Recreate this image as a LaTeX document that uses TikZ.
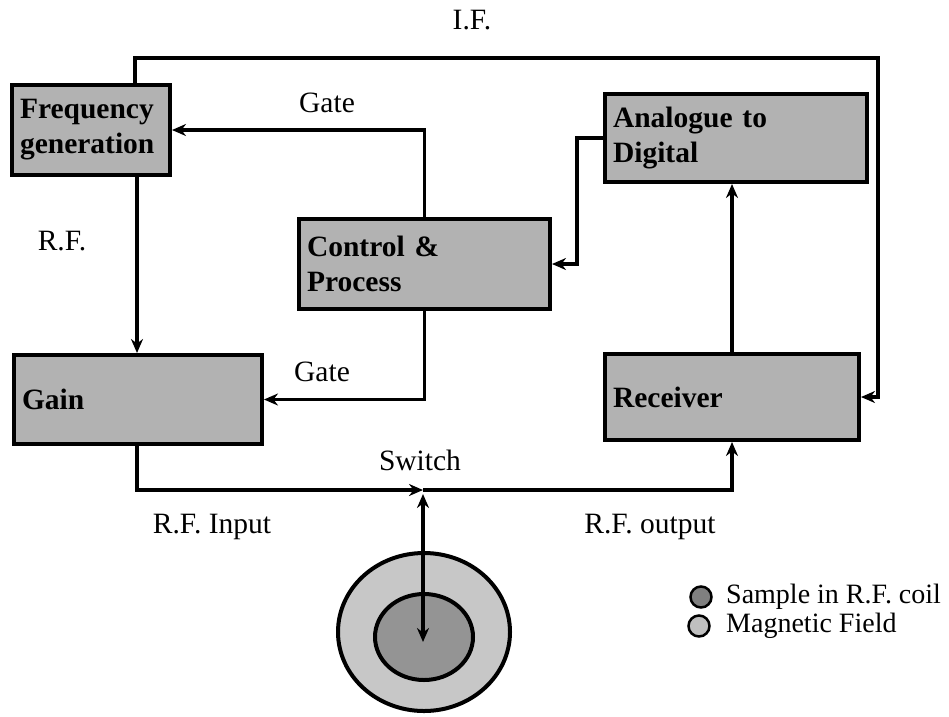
\documentclass[tikz,border=0pt]{standalone}
\usepackage{fontspec}
\setmainfont{Liberation Serif}
\usetikzlibrary{arrows.meta,shapes.geometric}
\begin{document}
\begin{tikzpicture}[x=1pt,y=-1pt,
  box/.style={draw=black, line width=4pt, fill=black!30, inner ysep=0pt, inner xsep=8pt,
    anchor=north west, font=\fontsize{29.5}{35}\selectfont\bfseries, align=left},
  conn/.style={line width=3.5pt},
  tip/.style={-{Stealth[length=14pt,width=12pt]}},
  lab/.style={font=\fontsize{29.5}{35}\selectfont, inner sep=0pt},
  leglab/.style={font=\fontsize{28}{34}\selectfont, inner sep=0pt, anchor=west},
  legdot/.style={circle, draw=black, line width=2.5pt, minimum size=21pt, inner sep=0pt}]
\useasboundingbox (0,0) rectangle (949,716);
% boxes
\node[box, text width=142pt, minimum height=90pt] (freq) at (10,83) {Frequency\\generation};
\node[box, text width=246pt, minimum height=88pt] (ad) at (603,92) {Analogue to\\Digital};
\node[box, text width=235pt, minimum height=90pt] (ctrl) at (297,217) {Control \&\\Process};
\node[box, text width=232pt, minimum height=89pt] (gain) at (12,353) {Gain};
\node[box, text width=238pt, minimum height=86pt] (recv) at (603,352) {Receiver};
% coil
\node[ellipse, draw=black, line width=4pt, fill=black!22, minimum width=172pt, minimum height=158pt, inner sep=0pt] (outer) at (424,632) {};
\node[ellipse, draw=black, line width=4pt, fill=black!42, minimum width=98pt, minimum height=86pt, inner sep=0pt] (inner) at (424,637) {};
% coordinates
\coordinate (ifl) at (135,58);
\coordinate (ifr) at (878,58);
\coordinate (rf) at (137,240);
\coordinate (adc) at (577,200);
\coordinate (sw) at (423,490);
\coordinate (swb) at (423,494);
\coordinate (coilc) at (423,642);
% connectors
\draw[conn, tip] (freq.north -| ifl) -- (ifl) -- (ifr) |- (recv.east);
\draw[conn, tip] (freq.south -| rf) -- (gain.north -| rf);
\draw[conn, tip] (ctrl.north) |- (freq.east);
\draw[conn, tip] (ctrl.south) |- (gain.east);
\draw[conn, tip] (ad.west) -| (adc) |- (ctrl.east);
\draw[conn, tip] (recv.north) -- (recv.north |- ad.south);
\draw[conn, tip] (gain.south -| rf) |- (sw);
\draw[conn, tip] (sw) -| (recv.south);
\draw[conn, {Stealth[length=14pt,width=12pt]}-{Stealth[length=14pt,width=12pt]}] (coilc) -- (swb);
% labels
\node[lab] (iflab) at (472,20) {I.F.};
\node[lab] (gate1) at (327,103) {Gate};
\node[lab] (gate2) at (322,372) {Gate};
\node[lab] (rflab) at (62,241) {R.F.};
\node[lab] (swlab) at (420,460) {Switch};
\node[lab] (rfin) at (212,527) {R.F. Input};
\node[lab] (rfout) at (650,527) {R.F. output};
% legend
\node[legdot, fill=black!50] (lg1) at (701,597) {};
\node[legdot, fill=black!25] (lg2) at (699,626) {};
\node[leglab] (lgt1) at (726,597) {Sample in R.F. coil};
\node[leglab] (lgt2) at (726,626) {Magnetic Field};
\end{tikzpicture}
\end{document}
